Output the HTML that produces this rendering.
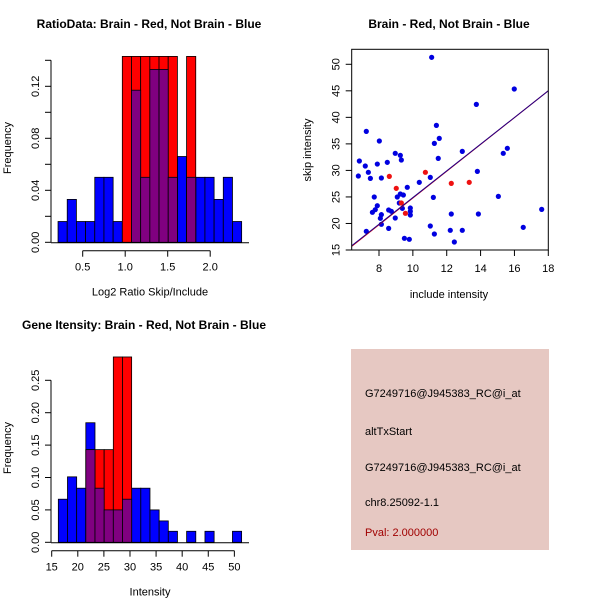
<!DOCTYPE html>
<html><head><meta charset="utf-8"><style>
body{margin:0;background:#fff}
svg{display:block;font-family:"Liberation Sans",sans-serif}
</style></head><body>
<svg id="c" width="600" height="600" xmlns="http://www.w3.org/2000/svg">
<rect width="600" height="600" fill="#fff"/>
</svg>
<script>
// ---- Panel 1: ratio histogram ----
const ratioStart = 0.21;
const ratioWidth = 0.108;
const ratioBlue = [0.016,0.033,0.016,0.016,0.05,0.05,0.016,0,0.117,0.05,0.133,0.133,0.05,0.066,0.05,0.05,0.05,0.033,0.05,0.016];
const ratioRed  = [0,0,0,0,0,0,0,0.143,0.143,0.143,0.143,0.143,0.143,0,0.143,0,0,0,0,0];
const ratioXTicks = [0.5,1.0,1.5,2.0];
const ratioXLabels = ["0.5","1.0","1.5","2.0"];
const ratioYTicks = [0,0.02,0.04,0.06,0.08,0.10,0.12,0.14];
const ratioYLabels = ["0.00","","0.04","","0.08","","0.12",""];
// ---- Panel 2: scatter ----
const blueX = [6.78,6.84,7.19,7.25,7.37,7.49,7.61,7.72,7.78,7.90,7.90,8.02,8.14,8.14,8.08,8.14,7.25,8.49,8.57,8.57,8.73,8.96,8.96,9.08,9.20,9.26,9.26,9.32,9.38,9.44,9.67,9.50,9.79,9.85,9.85,9.85,10.38,11.03,11.11,11.03,11.21,11.27,11.27,11.39,11.50,11.56,12.27,12.21,12.45,12.92,12.92,13.75,13.81,13.87,15.05,15.34,15.58,15.99,16.52,17.61];
const blueY = [28.94,31.77,30.83,37.36,29.64,28.5,22.1,24.99,22.6,31.2,23.35,35.54,28.57,21.66,20.97,19.84,18.52,31.52,22.54,19.08,22.29,33.22,21.03,24.99,23.86,25.55,32.84,31.96,22.85,25.36,26.81,17.2,17.01,22.91,22.29,21.6,27.75,28.69,51.31,19.52,24.92,18.02,35.1,38.49,32.27,36.04,21.78,18.71,16.51,18.71,33.59,42.45,29.82,21.78,25.11,33.22,34.16,45.34,19.27,22.66];
const redX = [8.61,9.02,9.32,9.56,10.74,12.27,13.33];
const redY = [28.88,26.62,23.86,21.91,29.64,27.56,27.75];
const fitBlue = [-0.27,2.515];
const fitRed = [-0.45,2.525];
const scXTicks = [8,10,12,14,16,18];
const scYTicks = [15,20,25,30,35,40,45,50];
// ---- Panel 3: intensity histogram ----
const intStart = 16.27;
const intWidth = 1.756;
const intBlue = [0.0665,0.101,0.0835,0.1845,0.0835,0.05,0.05,0.0665,0.0835,0.0835,0.05,0.033,0.017,0,0.017,0,0.017,0,0,0.017];
const intRed  = [0,0,0,0.143,0.143,0.143,0.286,0.286,0,0,0,0,0,0,0,0,0,0,0,0];
const intXTicks = [15,20,25,30,35,40,45,50];
const intYTicks = [0,0.05,0.10,0.15,0.20,0.25];
const intYLabels = ["0.00","0.05","0.10","0.15","0.20","0.25"];

const svg = document.getElementById('c');
const NS = 'http://www.w3.org/2000/svg';
function mk(tag, attrs, parent){
  const e = document.createElementNS(NS, tag);
  for (const k in attrs) e.setAttribute(k, attrs[k]);
  (parent||svg).appendChild(e);
  return e;
}
function txt(s, x, y, size, opts, parent){
  const t = mk('text', Object.assign({x:x,y:y,'font-size':size,'text-anchor':'middle',fill:'#000'}, opts||{}), parent);
  t.textContent = s;
  return t;
}

function histogram(name, cfg){
  const g = mk('g', {});
  
  
  const sx = v => cfg.x0 + (v - cfg.xv0) * cfg.kx;
  const sy = v => cfg.y0 - v * cfg.ky;
  const n = cfg.blue.length;
  const layers = [['blue', cfg.blue, '#0000ff'], ['red', cfg.red, '#ff0000']];
  for (const [lname, arr, col] of layers){
    for (let i=0;i<n;i++){
      if (arr[i] <= 0) continue;
      const a = sx(cfg.start + i*cfg.w), b = sx(cfg.start + (i+1)*cfg.w);
      const r = mk('rect', {x:a, y:sy(arr[i]), width:b-a, height:sy(0)-sy(arr[i]), fill:col, stroke:'#000', 'stroke-width':0.8}, g);
      
      
    }
  }
  for (let i=0;i<n;i++){
    const m = Math.min(cfg.blue[i], cfg.red[i]);
    if (m <= 0) continue;
    const a = sx(cfg.start + i*cfg.w), b = sx(cfg.start + (i+1)*cfg.w);
    const r = mk('rect', {x:a, y:sy(m), width:b-a, height:sy(0)-sy(m), fill:'#800080', stroke:'#000', 'stroke-width':0.8}, g);
    
    
  }
  const ya = mk('g', {}, g);
  
  
  const yt = cfg.yTicks;
  mk('line', {x1:cfg.axX, x2:cfg.axX, y1:sy(yt[0]), y2:sy(yt[yt.length-1]), stroke:'#000'}, ya);
  yt.forEach((v,i)=>{
    mk('line', {x1:cfg.axX-6, x2:cfg.axX, y1:sy(v), y2:sy(v), stroke:'#000'}, ya);
    if (cfg.yLabels[i]) txt(cfg.yLabels[i], cfg.axX-12, sy(v), 11, {transform:`rotate(-90 ${cfg.axX-12} ${sy(v)})`}, ya);
  });
  const xa = mk('g', {}, g);
  
  
  const xt = cfg.xTicks;
  mk('line', {x1:sx(xt[0]), x2:sx(xt[xt.length-1]), y1:cfg.axY, y2:cfg.axY, stroke:'#000'}, xa);
  xt.forEach((v,i)=>{
    mk('line', {x1:sx(v), x2:sx(v), y1:cfg.axY, y2:cfg.axY+6, stroke:'#000'}, xa);
    txt(cfg.xLabels[i], sx(v), cfg.axY+20, 11, {}, xa);
  });
  mk('line', {x1:cfg.baseL, x2:cfg.baseR, y1:sy(0)+0.5, y2:sy(0)+0.5, stroke:'#000'}, g);
  const t = txt(cfg.title, cfg.titleX, cfg.titleY, 12, {'font-weight':'bold'}, g);
   
  const xl = txt(cfg.xTitle, cfg.xTitleX, cfg.axY+45, 11, {}, g);
   
  const yl = txt('Frequency', 11, cfg.yTitleY, 11, {transform:`rotate(-90 11 ${cfg.yTitleY})`}, g);
   
}

histogram('ratio-histogram', {
  x0:82.7, xv0:0.5, kx:85, y0:242.3, ky:1300, start:ratioStart, w:ratioWidth,
  blue:ratioBlue, red:ratioRed, yTicks:ratioYTicks, yLabels:ratioYLabels,
  xTicks:ratioXTicks, xLabels:ratioXLabels, axX:51, axY:250.7, baseL:51, baseR:249,
  title:'RatioData: Brain - Red, Not Brain - Blue', titleX:149, titleY:28,
  xTitle:'Log2 Ratio Skip/Include', xTitleX:150, yTitleY:148
});
histogram('intensity-histogram', {
  x0:51.7, xv0:15, kx:5.219, y0:542.3, ky:648, start:intStart, w:intWidth,
  blue:intBlue, red:intRed, yTicks:intYTicks, yLabels:intYLabels,
  xTicks:intXTicks, xLabels:intXTicks.map(String), axX:51, axY:550.7, baseL:51, baseR:249,
  title:'Gene Itensity: Brain - Red, Not Brain - Blue', titleX:144, titleY:329,
  xTitle:'Intensity', xTitleX:150, yTitleY:448
});

(function(){
  const g = mk('g', {});
  
  
  const L=351.7, R=548.3, T=49.3, B=250;
  const sx = v => 379 + (v-8)*16.93;
  const sy = v => 250 - (v-15)*5.306;
  const xv0 = 8 + (L-379)/16.93, xv1 = 8 + (R-379)/16.93;
  mk('defs', {}, g).innerHTML = `<clipPath id="clipS"><rect x="${L}" y="${T}" width="${R-L}" height="${B-T}"/></clipPath>`;
  const pts = mk('g', {'clip-path':'url(#clipS)'}, g);
  blueX.forEach((x,i)=>{
    const c = mk('circle', {cx:sx(x), cy:sy(blueY[i]), r:2.6, fill:'#0000e0'}, pts);
    
    
  });
  redX.forEach((x,i)=>{
    const c = mk('circle', {cx:sx(x), cy:sy(redY[i]), r:2.6, fill:'#ee1111'}, pts);
    
    
  });
  const lr = mk('line', {x1:sx(xv0), y1:sy(fitRed[0]+fitRed[1]*xv0), x2:sx(xv1), y2:sy(fitRed[0]+fitRed[1]*xv1), stroke:'#e00000', 'stroke-width':1}, pts);
  
  
  const lb = mk('line', {x1:sx(xv0), y1:sy(fitBlue[0]+fitBlue[1]*xv0), x2:sx(xv1), y2:sy(fitBlue[0]+fitBlue[1]*xv1), stroke:'#20008a', 'stroke-width':1}, pts);
  
  
  mk('rect', {x:L, y:T, width:R-L, height:B-T, fill:'none', stroke:'#000'}, g);
  const xa = mk('g', {}, g);
  
  
  scXTicks.forEach(v=>{
    mk('line', {x1:sx(v), x2:sx(v), y1:B, y2:B+6, stroke:'#000'}, xa);
    txt(String(v), sx(v), B+22, 11, {}, xa);
  });
  const ya = mk('g', {}, g);
  
  
  scYTicks.forEach(v=>{
    mk('line', {x1:L-6, x2:L, y1:sy(v), y2:sy(v), stroke:'#000'}, ya);
    txt(String(v), L-12, sy(v), 11, {transform:`rotate(-90 ${L-12} ${sy(v)})`}, ya);
  });
  const t = txt('Brain - Red, Not Brain - Blue', 449, 28, 12, {'font-weight':'bold'}, g);
   
  const xl = txt('include intensity', 449, 298, 11, {}, g);
   
  const yl = txt('skip intensity', 311, 150, 11, {transform:'rotate(-90 311 150)'}, g);
   
})();

(function(){
  const g = mk('g', {});
  
  
  mk('rect', {x:351, y:349, width:198, height:201, fill:'#e6c8c2'}, g);
  const lines = [['G7249716@J945383_RC@i_at',397,'#000'],['altTxStart',435,'#000'],['G7249716@J945383_RC@i_at',471,'#000'],['chr8.25092-1.1',506,'#000'],['Pval: 2.000000',536,'#a00000']];
  lines.forEach(([s,y,c],i)=>{
    const t = txt(s, 365, y, 11, {'text-anchor':'start', fill:c}, g);
    
    
  });
})();
</script>
</body></html>
